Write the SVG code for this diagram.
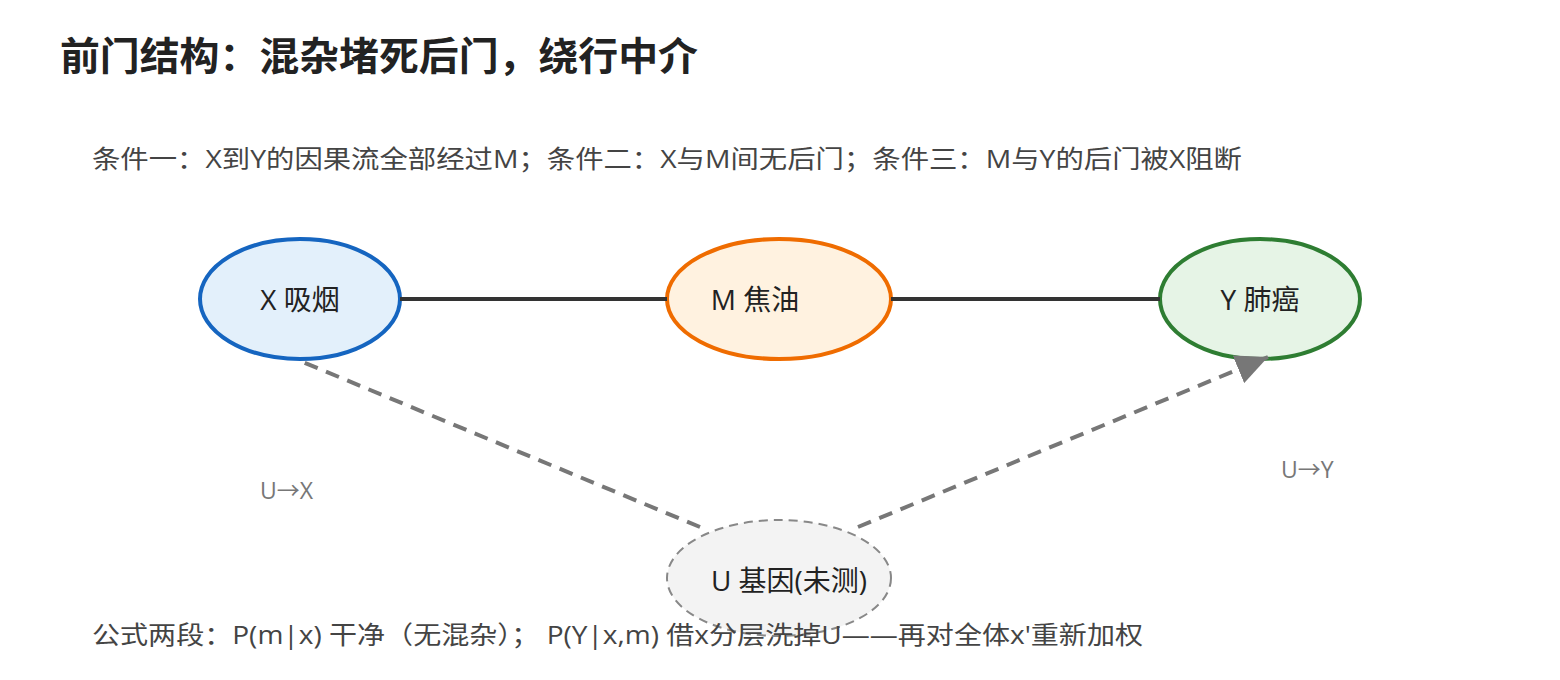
<svg xmlns="http://www.w3.org/2000/svg" width="1560" height="680" viewBox="0 0 1560 680">
<style>
text{font-family:"Open Sans","Noto Sans CJK SC",sans-serif}
.t{font-size:39px;font-weight:bold;fill:#222}
.s{font-size:25px;fill:#444}
.n{font-size:28px;fill:#222;text-anchor:middle;dominant-baseline:central}
.l{font-size:23px;fill:#777}
.solid{stroke:#333;stroke-width:4;fill:none}
.dash{stroke:#777;stroke-width:4;stroke-dasharray:14 9;fill:none}
</style>
<defs>
<marker id="ah" markerUnits="userSpaceOnUse" markerWidth="34" markerHeight="30" refX="32" refY="15" orient="auto">
<path d="M0,0 L32,15 L0,30 Z" fill="#777"/>
</marker>
</defs>
<rect width="1560" height="680" fill="#fff"/>
<text class="t" x="60" y="70" textLength="638" lengthAdjust="spacingAndGlyphs">前门结构：混杂堵死后门，绕行中介</text>
<text class="s" x="92" y="168" textLength="1150" lengthAdjust="spacingAndGlyphs">条件一：X到Y的因果流全部经过M；条件二：X与M间无后门；条件三：M与Y的后门被X阻断</text>
<g id="nX"><ellipse cx="300" cy="299" rx="100" ry="60" fill="#e3f0fb" stroke="#1565c0" stroke-width="4"/><text class="n" x="300" y="299">X 吸烟</text></g>
<g id="nM"><ellipse cx="779" cy="299" rx="112" ry="60" fill="#fff2e0" stroke="#ef6c00" stroke-width="4"/><text class="n" x="755" y="299">M 焦油</text></g>
<g id="nY"><ellipse cx="1260" cy="299" rx="100" ry="60" fill="#e6f4e6" stroke="#2e7d32" stroke-width="4"/><text class="n" x="1260" y="299">Y 肺癌</text></g>
<g id="nU"><ellipse cx="779" cy="578" rx="112" ry="58" fill="#f3f3f3" stroke="#888" stroke-width="2" stroke-dasharray="9 6"/><text class="n" x="789" y="580">U 基因(未测)</text></g>
<g id="edges">
<line class="solid" x1="400" y1="299" x2="667" y2="299"/>
<line class="solid" x1="891" y1="299" x2="1160" y2="299"/>
<line class="dash" x1="700" y1="527" x2="298" y2="360"/>
<line class="dash" x1="858" y1="527" x2="1268" y2="357" marker-end="url(#ah)"/>
</g>
<text class="l" x="260" y="499">U→X</text>
<text class="l" x="1281" y="478">U→Y</text>
<text class="s" x="92" y="644" textLength="1051" lengthAdjust="spacingAndGlyphs">公式两段：P(m|x) 干净（无混杂）； P(Y|x,m) 借x分层洗掉U——再对全体x'重新加权</text>
</svg>
